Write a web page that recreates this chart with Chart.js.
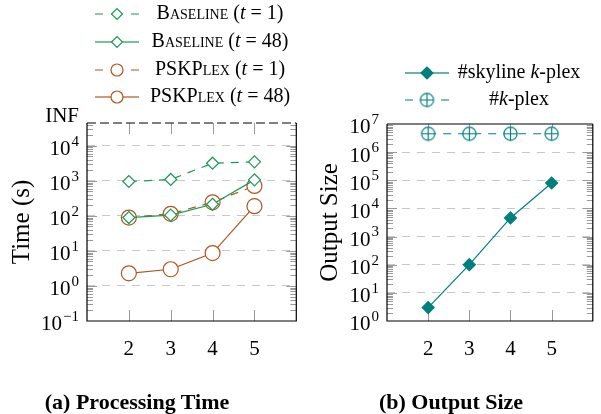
<!DOCTYPE html>
<html>
<head>
<meta charset="utf-8">
<script src="https://cdn.jsdelivr.net/npm/chart.js@4.4.0/dist/chart.umd.min.js"></script>
<style>
  body { margin: 0; background: #fff; }
  #wrap { position: relative; width: 601px; height: 414px; overflow: hidden; }
  canvas { position: absolute; top: 0; }
  #timeChart { left: 0; }
  #sizeChart { left: 305px; }
  .cap { position: absolute; top: 389px; line-height: 24px; font: bold 22px "Liberation Serif", serif;
         white-space: nowrap; transform: translateX(-50%); }
</style>
</head>
<body>
<div id="wrap">
  <canvas id="timeChart" width="305" height="414"></canvas>
  <canvas id="sizeChart" width="296" height="414"></canvas>
  <div class="cap" style="left:137px">(a) Processing Time</div>
  <div class="cap" style="left:451px">(b) Output Size</div>
</div>
<script>
// k values on the x axis
const kValues = [2, 3, 4, 5];

// (a) processing time in seconds
const baselineT1 = [960, 1100, 3200, 3500];
const baselineT48 = [90, 105, 215, 1070];
const pskplexT1 = [90, 115, 245, 720];
const pskplexT48 = [2.3, 3.0, 8.7, 190];
const timeNames = ['Baseline (t = 1)', 'Baseline (t = 48)', 'PSKPlex (t = 1)', 'PSKPlex (t = 48)'];

// (b) output size
const skylineKplex = [3, 100, 4600, 80000];
const allKplex = [4.5e6, 4.5e6, 4.5e6, 4.5e6];
const sizeNames = ['#skyline k-plex', '#k-plex'];

// y tick labels (powers of ten) and the INF cap of the time axis
const timeTickExps = [-1, 0, 1, 2, 3, 4];
const infLabel = 'INF';
const infValue = 45000;
const sizeTickExps = [0, 1, 2, 3, 4, 5, 6, 7];

const FONT = '"Liberation Serif", "DejaVu Serif", serif';
const GREEN = '#1a9a58';
const BROWN = '#b0551f';
const TEAL = '#007f7f';

const pts = arr => kValues.map((k, i) => ({ x: k, y: arr[i] }));

// crossed circle marker for #k-plex
const oplus = document.createElement('canvas');
oplus.width = 17; oplus.height = 17;
(() => {
  const c = oplus.getContext('2d');
  c.strokeStyle = TEAL; c.fillStyle = '#fff'; c.lineWidth = 1.2;
  c.beginPath(); c.arc(8.5, 8.5, 6.6, 0, Math.PI * 2); c.fill(); c.stroke();
  c.beginPath(); c.moveTo(1.9, 8.5); c.lineTo(15.1, 8.5); c.moveTo(8.5, 1.9); c.lineTo(8.5, 15.1); c.stroke();
})();

function richSegments(text) {
  const segs = [];
  const re = /(Baseline|PSKPlex|\b[tk]\b)/g;
  let last = 0, m;
  while ((m = re.exec(text))) {
    if (m.index > last) segs.push({ t: text.slice(last, m.index), s: 'n' });
    segs.push({ t: m[0], s: m[0].length === 1 ? 'i' : 'sc' });
    last = re.lastIndex;
  }
  if (last < text.length) segs.push({ t: text.slice(last), s: 'n' });
  return segs;
}

function setFont(ctx, s, size) {
  if (s === 'i') ctx.font = `italic ${size}px ${FONT}`;
  else if (s === 'sc') ctx.font = `small-caps ${size}px ${FONT}`;
  else ctx.font = `${size}px ${FONT}`;
  if ('fontVariantCaps' in ctx) ctx.fontVariantCaps = s === 'sc' ? 'small-caps' : 'normal';
}

function drawRich(ctx, text, cx, cy, size) {
  const segs = richSegments(text);
  let total = 0;
  segs.forEach(g => { setFont(ctx, g.s, size); g.w = ctx.measureText(g.t).width; total += g.w; });
  let x = cx - total / 2;
  ctx.textAlign = 'left'; ctx.textBaseline = 'middle'; ctx.fillStyle = '#000';
  segs.forEach(g => { setFont(ctx, g.s, size); ctx.fillText(g.t, x, cy); x += g.w; });
  if ('fontVariantCaps' in ctx) ctx.fontVariantCaps = 'normal';
}

function drawPow(ctx, exp, xr, y, size) {
  const sup = exp < 0 ? '\u2212' + (-exp) : String(exp);
  const supSize = Math.round(size * 0.7);
  ctx.font = `${size}px ${FONT}`;
  const wb = ctx.measureText('10').width;
  ctx.font = `${supSize}px ${FONT}`;
  const ws = ctx.measureText(sup).width;
  ctx.textAlign = 'left'; ctx.textBaseline = 'alphabetic'; ctx.fillStyle = '#000';
  const base = y + size * 0.45;
  ctx.font = `${size}px ${FONT}`;
  ctx.fillText('10', xr - ws - wb - 1, base);
  ctx.font = `${supSize}px ${FONT}`;
  ctx.fillText(sup, xr - ws, base - size * 0.46);
}

const decor = {
  id: 'decor',
  beforeDatasetsDraw(chart, args, o) {
    const { ctx, chartArea: { left, right, top, bottom }, scales: { x, y } } = chart;
    ctx.save();
    ctx.strokeStyle = '#9a9a9a';
    ctx.lineWidth = 1;
    const lo = Math.floor(Math.log10(y.min)), hi = Math.ceil(Math.log10(y.max));
    for (let d = lo; d <= hi; d++) {
      for (let m = 1; m <= 9; m++) {
        const v = m * Math.pow(10, d);
        if (v <= y.min * 1.0001 || v >= y.max * 0.9999) continue;
        const py = Math.round(y.getPixelForValue(v)) + 0.5;
        const len = m === 1 ? 10 : 6;
        ctx.beginPath();
        ctx.moveTo(left, py); ctx.lineTo(left + len, py);
        ctx.moveTo(right, py); ctx.lineTo(right - len, py);
        ctx.stroke();
      }
    }
    kValues.forEach(k => {
      const px = Math.round(x.getPixelForValue(k)) + 0.5;
      ctx.beginPath();
      ctx.moveTo(px, bottom); ctx.lineTo(px, bottom - 11);
      ctx.moveTo(px, top); ctx.lineTo(px, top + 11);
      ctx.stroke();
    });
    // frame
    ctx.strokeStyle = '#000';
    ctx.lineWidth = 1.2;
    ctx.beginPath();
    ctx.moveTo(left, top); ctx.lineTo(left, bottom); ctx.lineTo(right, bottom); ctx.lineTo(right, top);
    ctx.stroke();
    ctx.beginPath();
    if (o.topDashed) ctx.setLineDash([9, 4]);
    ctx.moveTo(left, top); ctx.lineTo(right, top);
    ctx.stroke();
    ctx.restore();
  },
  afterDraw(chart, args, o) {
    const { ctx, chartArea: { left, top, bottom }, scales: { y } } = chart;
    ctx.save();
    const xr = left - 8;
    o.tickExps.forEach(e => drawPow(ctx, e, xr, y.getPixelForValue(Math.pow(10, e)), 21));
    if (o.infLabel) {
      ctx.font = `21px ${FONT}`;
      ctx.textAlign = 'right'; ctx.textBaseline = 'alphabetic';
      ctx.fillText(o.infLabel, xr, y.getPixelForValue(o.infValue) - 1);
    }
    // axis title
    ctx.save();
    ctx.translate(o.titleX, (top + bottom) / 2);
    ctx.rotate(-Math.PI / 2);
    ctx.font = `25px ${FONT}`;
    ctx.textAlign = 'center'; ctx.textBaseline = 'middle'; ctx.fillStyle = '#000';
    ctx.fillText(o.title, 0, 0);
    ctx.restore();
    // legend
    const lg = o.legend;
    chart.data.datasets.forEach((ds, i) => {
      const cy = lg.rows[i], cx = lg.symX, h = lg.half;
      ctx.save();
      ctx.strokeStyle = ds.borderColor;
      ctx.lineWidth = ds.borderWidth;
      ctx.setLineDash(ds.borderDash ? [8, 8] : []);
      ctx.beginPath(); ctx.moveTo(cx - h, cy); ctx.lineTo(cx, cy); ctx.stroke();
      ctx.beginPath(); ctx.moveTo(cx + h, cy); ctx.lineTo(cx, cy); ctx.stroke();
      ctx.setLineDash([]);
      ctx.fillStyle = ds.pointBackgroundColor;
      ctx.strokeStyle = ds.pointBorderColor;
      ctx.lineWidth = ds.pointBorderWidth;
      Chart.helpers.drawPoint(ctx, { pointStyle: ds.pointStyle, radius: lg.radius[i], rotation: 0, borderWidth: ds.pointBorderWidth }, cx, cy);
      ctx.restore();
      drawRich(ctx, lg.names[i], lg.textX, cy, 20);
    });
    ctx.restore();
  }
};

function lineSet(data, color, dashed, style, radius, filled) {
  return {
    data: pts(data),
    borderColor: color,
    borderWidth: 1.2,
    borderDash: dashed ? [8, 7] : undefined,
    pointStyle: style,
    pointRadius: radius,
    pointBorderColor: color,
    pointBackgroundColor: filled ? color : '#fff',
    pointBorderWidth: 1.2,
    fill: false,
    tension: 0
  };
}

function makeOptions(cfg) {
  return {
    responsive: false,
    animation: false,
    events: [],
    layout: { padding: { top: cfg.top, right: cfg.padRight, left: 0, bottom: 0 } },
    plugins: { legend: { display: false }, tooltip: { enabled: false }, decor: cfg.decor },
    scales: {
      x: {
        type: 'linear', min: 1, max: 6,
        afterBuildTicks: s => { s.ticks = kValues.map(v => ({ value: v })); },
        afterFit: s => { s.height = 414 - cfg.bottom; },
        grid: { display: false },
        border: { display: false },
        ticks: { color: '#000', font: { family: FONT, size: 21 }, padding: 8, callback: v => String(v) }
      },
      y: {
        type: 'logarithmic', min: cfg.yMin, max: cfg.yMax,
        afterBuildTicks: s => { s.ticks = cfg.gridVals.map(v => ({ value: v })); },
        afterFit: s => { s.width = cfg.left; },
        border: { display: false, dash: [8, 7] },
        grid: { drawTicks: false, color: '#c8c8c8', lineWidth: 1 },
        ticks: { display: false }
      }
    }
  };
}

new Chart(document.getElementById('timeChart'), {
  type: 'line',
  data: {
    datasets: [
      lineSet(baselineT1, GREEN, true, 'rectRot', 6, false),
      lineSet(baselineT48, GREEN, false, 'rectRot', 6, false),
      lineSet(pskplexT1, BROWN, true, 'circle', 7.5, false),
      lineSet(pskplexT48, BROWN, false, 'circle', 7.5, false)
    ]
  },
  options: makeOptions({
    top: 123, bottom: 321, left: 87, padRight: 3,
    yMin: 0.1, yMax: infValue,
    gridVals: timeTickExps.filter(e => e >= 0).map(e => Math.pow(10, e)),
    decor: {
      tickExps: timeTickExps, infLabel: infLabel, infValue: infValue, topDashed: true,
      title: 'Time (s)', titleX: 22,
      legend: { rows: [14, 42, 70, 97], symX: 117, half: 22, textX: 220, radius: [5.5, 5.5, 6, 6], names: timeNames }
    }
  }),
  plugins: [decor]
});

new Chart(document.getElementById('sizeChart'), {
  type: 'line',
  data: {
    datasets: [
      lineSet(skylineKplex, TEAL, false, 'rectRot', 6, true),
      lineSet(allKplex, TEAL, true, oplus, 7, false)
    ]
  },
  options: makeOptions({
    top: 124, bottom: 321, left: 82, padRight: 1,
    yMin: 1, yMax: 1e7,
    gridVals: sizeTickExps.filter(e => e > 0 && e < 7).map(e => Math.pow(10, e)),
    decor: {
      tickExps: sizeTickExps, topDashed: false,
      title: 'Output Size', titleX: 25,
      legend: { rows: [73, 100], symX: 122, half: 22, textX: 214, radius: [6, 7], names: sizeNames }
    }
  }),
  plugins: [decor]
});
</script>
</body>
</html>
